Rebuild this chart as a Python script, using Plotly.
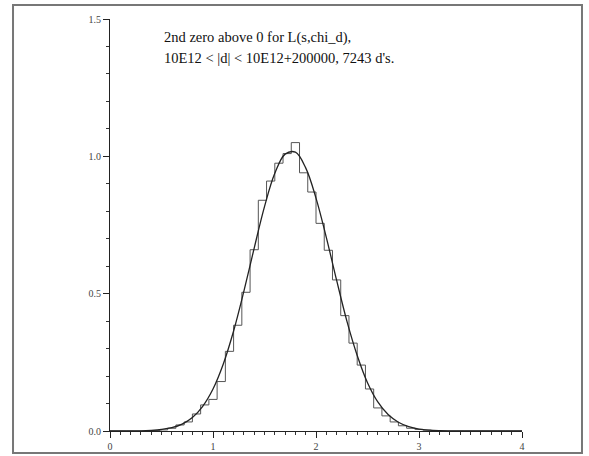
import numpy as np
import plotly.graph_objects as go

# Histogram: bin width 0.08 over [0, 4]
bin_width = 0.08
hist_values = [
    0, 0, 0, 0, 0, 0.001, 0.004, 0.01, 0.022, 0.033,
    0.062, 0.095, 0.115, 0.18, 0.29, 0.385, 0.505, 0.66, 0.84, 0.91,
    0.975, 1.01, 1.05, 0.94, 0.87, 0.756, 0.658, 0.55, 0.42, 0.32,
    0.24, 0.153, 0.084, 0.055, 0.033, 0.019, 0.01, 0.006, 0.003, 0.001,
    0, 0, 0, 0, 0, 0, 0, 0, 0, 0,
]

# Smooth fitted curve sampled every 0.1
curve_x = [round(0.1 * i, 1) for i in range(41)]
curve_y = [
    0, 0, 0, 0.0001, 0.002, 0.0055, 0.012, 0.025, 0.049, 0.09,
    0.153, 0.244, 0.364, 0.509, 0.666, 0.817, 0.938, 1.008, 1.015, 0.958,
    0.848, 0.705, 0.549, 0.40, 0.275, 0.176, 0.106, 0.060, 0.032, 0.016,
    0.007, 0.003, 0.0013, 0.0005, 0, 0, 0, 0, 0, 0, 0,
]

x_ticks = [0, 1, 2, 3, 4]
y_ticks = [0.0, 0.5, 1.0, 1.5]
title_lines = ["2nd zero above 0 for L(s,chi_d),",
               "10E12 < |d| < 10E12+200000, 7243 d's."]

bin_left = np.round(np.arange(len(hist_values)) * bin_width, 4)
hx = list(bin_left) + [round(len(hist_values) * bin_width, 4)]
hy = list(hist_values) + [hist_values[-1]]

fig = go.Figure()
fig.add_trace(go.Scatter(x=hx, y=hy, mode="lines", line_shape="hv",
                         line=dict(color="#555555", width=1), hoverinfo="skip"))
fig.add_trace(go.Scatter(x=curve_x, y=curve_y, mode="lines", line_shape="spline",
                         line=dict(color="#222222", width=1.3), hoverinfo="skip"))

tickfont = dict(family="Liberation Serif", size=10, color="#444444")
fig.update_layout(
    width=589, height=456,
    margin=dict(l=110, r=67, t=19, b=25),
    paper_bgcolor="white", plot_bgcolor="white",
    showlegend=False,
    xaxis=dict(range=[0, 4], tickvals=x_ticks, ticktext=[str(v) for v in x_ticks],
               automargin=False,
               showgrid=False, zeroline=False, showline=True, linecolor="#222", linewidth=1,
               ticks="outside", ticklen=6, tickcolor="#222", tickfont=tickfont,
               minor=dict(dtick=0.1, ticks="outside", ticklen=3, tickcolor="#333")),
    yaxis=dict(range=[0, 1.5], tickvals=y_ticks, ticktext=[f"{v:.1f}" for v in y_ticks],
               automargin=False,
               showgrid=False, zeroline=False, showline=True, linecolor="#222", linewidth=1,
               ticks="outside", ticklen=6, tickcolor="#222", tickfont=tickfont,
               minor=dict(dtick=0.1, ticks="outside", ticklen=3, tickcolor="#333")),
)

for i, line in enumerate(title_lines):
    fig.add_annotation(xref="paper", yref="paper", x=0.126, y=0.954 - 0.049 * i,
                       xanchor="left", yanchor="middle", showarrow=False, text=line,
                       font=dict(family="Liberation Serif", size=14.5, color="#111111"))

# outer frame
fig.add_shape(type="rect", xref="paper", yref="paper",
              x0=-0.2354, x1=1.1456, y0=-0.0534, y1=1.034,
              line=dict(color="#777777", width=2), fillcolor="rgba(0,0,0,0)", layer="below")

fig.write_html("out.html", config={"displayModeBar": False},
               post_script="document.body.style.margin='0';document.body.style.overflow='hidden';")
